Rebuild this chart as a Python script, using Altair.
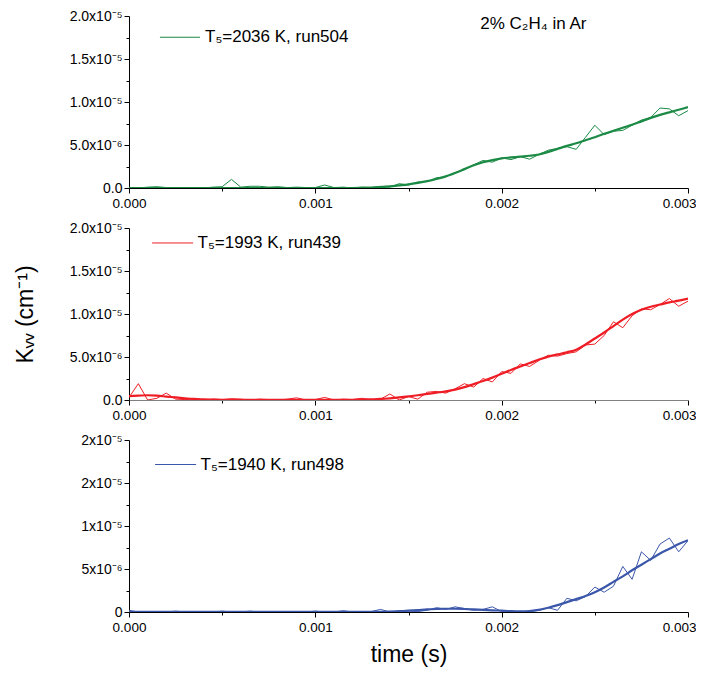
import altair as alt
import pandas as pd

FONT = "Liberation Sans"

# time grid (s)
TIME = [round(i * 0.00005, 5) for i in range(61)]

# K_vv values in units of 1e-6 cm^-1
G_RAW = [0.05, 0.0, 0.1, 0.15, 0.05, 0.0, 0.05, 0.05, 0.0, 0.1,
         0.15, 1.0, 0.1, 0.2, 0.2, 0.1, 0.15, 0.05, 0.1, 0.05,
         0.05, 0.35, 0.05, 0.1, 0.0, 0.1, 0.05, 0.2, 0.1, 0.5,
         0.35, 0.7, 0.75, 1.2, 1.3, 1.8, 2.1, 2.7, 3.2, 3.0,
         3.5, 3.3, 3.65, 3.35, 3.9, 4.4, 4.6, 4.8, 4.5, 5.9,
         7.3, 6.2, 6.6, 6.7, 7.3, 7.9, 8.2, 9.3, 9.2, 8.4,
         9.0]
G_FIT = [0.0] * 25 + [0.02, 0.05, 0.1, 0.18, 0.3,
                      0.43, 0.6, 0.8, 1.05, 1.35, 1.75, 2.2, 2.65, 3.0, 3.25,
                      3.45, 3.55, 3.65, 3.75, 3.9, 4.2, 4.55, 4.9, 5.2, 5.55,
                      5.9, 6.3, 6.65, 7.0, 7.35, 7.75, 8.15, 8.5, 8.8, 9.1,
                      9.4]
R_RAW = [0.3, 1.9, 0.0, 0.2, 0.8, 0.1, 0.05, 0.1, 0.0, 0.1,
         0.05, 0.15, 0.1, 0.0, 0.1, 0.05, 0.0, 0.1, 0.25, 0.0,
         0.05, 0.3, 0.0, 0.1, 0.05, 0.2, 0.0, 0.1, 0.7, 0.0,
         0.4, 0.1, 0.9, 1.0, 0.8, 1.3, 1.9, 1.5, 2.5, 2.1,
         3.3, 3.1, 4.2, 3.9, 4.6, 5.2, 5.1, 5.4, 5.6, 6.4,
         6.5, 7.5, 9.1, 8.4, 9.8, 10.6, 10.5, 11.1, 11.8, 10.9,
         11.5]
R_FIT = [0.45, 0.5, 0.55, 0.5, 0.4, 0.3, 0.2, 0.12, 0.08, 0.05,
         0.03, 0.03, 0.03, 0.03, 0.03, 0.03, 0.03, 0.03, 0.03, 0.03,
         0.03, 0.03, 0.03, 0.03, 0.03, 0.05, 0.08, 0.12, 0.2, 0.3,
         0.42, 0.55, 0.7, 0.85, 1.0, 1.2, 1.5, 1.85, 2.2, 2.6,
         3.05, 3.5, 3.9, 4.3, 4.7, 5.05, 5.3, 5.55, 5.85, 6.45,
         7.15, 7.85, 8.6, 9.35, 10.0, 10.5, 10.85, 11.1, 11.35, 11.55,
         11.8]
B_RAW = [0.2, 0.0, 0.05, 0.0, 0.0, 0.1, 0.0, 0.0, 0.05, 0.0,
         0.1, 0.0, 0.0, 0.1, 0.0, 0.05, 0.0, 0.0, 0.05, 0.0,
         0.1, 0.0, 0.0, 0.15, 0.0, 0.0, 0.05, 0.3, 0.0, 0.0,
         0.1, 0.05, 0.2, 0.5, 0.3, 0.6, 0.4, 0.2, 0.3, 0.6,
         0.05, 0.1, 0.0, 0.05, 0.2, 0.5, 0.2, 1.6, 1.3, 1.8,
         2.9, 2.3, 3.0, 5.3, 3.8, 7.0, 6.0, 7.9, 8.6, 7.0,
         8.3]
B_FIT = [0.02] * 28 + [0.05, 0.1,
                       0.15, 0.22, 0.3, 0.35, 0.38, 0.38, 0.35, 0.3, 0.25, 0.2,
                       0.15, 0.1, 0.08, 0.1, 0.25, 0.5, 0.8, 1.15, 1.5, 1.85,
                       2.3, 2.85, 3.5, 4.15, 4.85, 5.5, 6.15, 6.8, 7.35, 7.9,
                       8.35]

LABELS = ["T\u2085=2036 K, run504", "T\u2085=1993 K, run439", "T\u2085=1940 K, run498"]
COLORS = ["#1b8a45", "#ee1d25", "#3b57aa"]
LEG_X1 = [0.000166, 0.000124, 0.000140]
LEG_X2 = [0.000381, 0.000344, 0.000360]
LEG_Y = [17.53, 18.26, 17.15]
LEG_TX = [0.000408, 0.000368, 0.000384]

NOTE_TEXT = ["2% C\u2082H\u2084 in Ar"]
NOTE_X = [0.00217]
NOTE_Y = [19.05]

X_TICKS = [0, 0.0005, 0.001, 0.0015, 0.002, 0.0025, 0.003]
X_LABELS = ["0.000", "", "0.001", "", "0.002", "", "0.003"]
X_MINOR = [0.0005, 0.0015, 0.0025]
Y_TICKS = [0, 2.5, 5, 7.5, 10, 12.5, 15, 17.5, 20]
Y_MINOR = [2.5, 7.5, 12.5, 17.5]
Y_LABELS_A = ["0.0", "", "5.0x10\u207b\u2076", "", "1.0x10\u207b\u2075", "",
              "1.5x10\u207b\u2075", "", "2.0x10\u207b\u2075"]
Y_LABELS_B = ["0", "", "5x10\u207b\u2076", "", "1x10\u207b\u2075", "",
              "2x10\u207b\u2075", "", "2x10\u207b\u2075"]


def js_list(vals):
    return "[" + ",".join(repr(v) if not isinstance(v, str) else "'" + v + "'" for v in vals) + "]"


def label_expr(ticks, labels):
    return f"{js_list(labels)}[indexof({js_list(ticks)}, datum.value)]"


def tick_size(minor, major_size, minor_size):
    return {"condition": {"test": f"indexof({js_list(minor)}, datum.value) >= 0",
                          "value": minor_size},
            "value": major_size}


LAST_X = X_TICKS[-1]


def panel(raw, fit, k, ylabels, ytitle=None, xtitle=None, xdomain="#000000", note=False):
    color = COLORS[k]
    df = pd.DataFrame({"t": TIME, "raw": raw, "fit": fit})
    xscale = alt.Scale(domain=[0, 0.003], nice=False, zero=False)
    yscale = alt.Scale(domain=[0, 20], nice=False)
    xaxis_kw = dict(values=X_TICKS, labelExpr=label_expr(X_TICKS, X_LABELS),
                    tickSize=tick_size(X_MINOR, 5, 3), labelPadding=3,
                    domainColor=xdomain, grid=False, labelFlush=False,
                    labelAlign={"condition": {"test": f"datum.value == {LAST_X}", "value": "right"},
                                "value": "center"},
                    labelOffset={"condition": {"test": f"datum.value == {LAST_X}", "value": 8},
                                 "value": 0})
    if xtitle:
        xaxis_kw.update(title=xtitle, titlePadding=10)
    else:
        xaxis_kw.update(title=None)
    yaxis_kw = dict(values=Y_TICKS, labelExpr=label_expr(Y_TICKS, ylabels),
                    tickSize=tick_size(Y_MINOR, 5, 3), labelPadding=2,
                    grid=False, labelFlush=False, labelFontSize=14)
    if ytitle:
        yaxis_kw.update(title=ytitle, titlePadding=32)
    else:
        yaxis_kw.update(title=None)
    xaxis = alt.Axis(**xaxis_kw)
    yaxis = alt.Axis(**yaxis_kw)

    base = alt.Chart(df)
    raw_line = base.mark_line(color=color, strokeWidth=1, clip=True).encode(
        x=alt.X("t:Q", scale=xscale, axis=xaxis),
        y=alt.Y("raw:Q", scale=yscale, axis=yaxis),
    )
    fit_line = base.mark_line(color=color, strokeWidth=2.2, interpolate="monotone", clip=True).encode(
        x=alt.X("t:Q", scale=xscale, axis=xaxis),
        y=alt.Y("fit:Q", scale=yscale, axis=yaxis),
    )
    leg = pd.DataFrame({"x1": [LEG_X1[k]], "x2": [LEG_X2[k]], "y": [LEG_Y[k]],
                        "tx": [LEG_TX[k]], "label": [LABELS[k]]})
    rule = alt.Chart(leg).mark_rule(color=color, strokeWidth=1).encode(
        x=alt.X("x1:Q", scale=xscale, axis=xaxis), x2="x2:Q",
        y=alt.Y("y:Q", scale=yscale, axis=yaxis),
    )
    text = alt.Chart(leg).mark_text(align="left", baseline="middle", fontSize=17,
                                    font=FONT, color="#000000").encode(
        x=alt.X("tx:Q", scale=xscale, axis=xaxis),
        y=alt.Y("y:Q", scale=yscale, axis=yaxis),
        text="label:N",
    )
    layers = [raw_line, fit_line, rule, text]
    if note:
        nd = pd.DataFrame({"x": NOTE_X, "y": NOTE_Y, "label": NOTE_TEXT})
        layers.append(alt.Chart(nd).mark_text(align="center", baseline="middle", fontSize=17,
                                              font=FONT, color="#000000").encode(
            x=alt.X("x:Q", scale=xscale, axis=xaxis),
            y=alt.Y("y:Q", scale=yscale, axis=yaxis),
            text="label:N",
        ))
    return alt.layer(*layers).properties(width=559, height=172)


p1 = panel(G_RAW, G_FIT, 0, Y_LABELS_A, note=True)
p2 = panel(R_RAW, R_FIT, 1, Y_LABELS_A, ytitle="K\u1d65\u1d65 (cm\u207b\u00b9)", xdomain="#808080")
p3 = panel(B_RAW, B_FIT, 2, Y_LABELS_B, xtitle="time (s)")

chart = alt.vconcat(p1, p2, p3, spacing=40, bounds="flush").properties(
    padding={"left": 6, "top": 1, "right": 0, "bottom": 2}
).configure_view(stroke=None).configure_axis(
    labelFont=FONT, titleFont=FONT, labelFontSize=13.5, titleFontSize=23,
    titleFontWeight="normal", labelColor="#000000", titleColor="#000000",
    domainColor="#000000", tickColor="#000000", domainWidth=1, tickWidth=1,
)

chart.save("out.html", embed_options={"renderer": "svg", "actions": False})
